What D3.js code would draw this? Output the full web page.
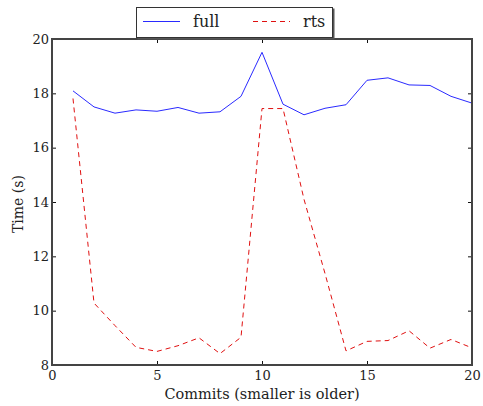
<!DOCTYPE html>
<html>
<head>
<meta charset="utf-8">
<script src="https://cdn.jsdelivr.net/npm/d3@7"></script>
<style>
  body { margin: 0; background: #fff; }
  text { font-family: "DejaVu Serif", serif; fill: #222; }
</style>
</head>
<body>
<div id="chart"></div>
<script>
// commits 1..20
const commits = [1,2,3,4,5,6,7,8,9,10,11,12,13,14,15,16,17,18,19,20];
const fullTimes = [18.09,17.50,17.27,17.39,17.34,17.48,17.27,17.32,17.89,19.51,17.60,17.21,17.45,17.58,18.48,18.57,18.31,18.29,17.89,17.64];
const rtsTimes  = [17.81,10.28,9.45,8.65,8.50,8.71,9.00,8.42,9.02,17.44,17.44,14.10,11.37,8.52,8.87,8.90,9.26,8.62,8.94,8.63];
const xTicks = [0,5,10,15,20];
const yTicks = [8,10,12,14,16,18,20];

const W = 483, H = 406;
const margin = { top: 39, right: 11, bottom: 41, left: 52 },
      width = W - margin.left - margin.right,
      height = H - margin.top - margin.bottom;

const svg = d3.select("#chart").append("svg")
  .attr("width", W).attr("height", H);

const g = svg.append("g")
  .attr("transform", `translate(${margin.left},${margin.top})`);

const x = d3.scaleLinear().domain([0, 20]).range([0, width]);
const y = d3.scaleLinear().domain([8, 20]).range([height, 0]);

// lines
const line = d3.line().x((d, i) => x(commits[i])).y(d => y(d));
g.append("path")
  .datum(fullTimes)
  .attr("fill", "none")
  .attr("stroke", "#2a2aff")
  .attr("stroke-width", 1)
  .attr("d", line);

g.append("path")
  .datum(rtsTimes)
  .attr("fill", "none")
  .attr("stroke", "#e01010")
  .attr("stroke-width", 1)
  .attr("stroke-dasharray", "5,4")
  .attr("d", line);

// ticks inside on all four sides
const tickLen = 4;
const axisColor = "#444";
const axB = d3.axisBottom(x).tickValues(xTicks).tickSizeInner(-tickLen).tickSizeOuter(0).tickPadding(6);
const axT = d3.axisTop(x).tickValues(xTicks).tickSizeInner(-tickLen).tickSizeOuter(0).tickFormat("");
const axL = d3.axisLeft(y).tickValues(yTicks).tickSizeInner(-tickLen).tickSizeOuter(0).tickPadding(3);
const axR = d3.axisRight(y).tickValues(yTicks).tickSizeInner(-tickLen).tickSizeOuter(0).tickFormat("");

[[axB, `translate(0,${height})`], [axT, "translate(0,0)"], [axL, "translate(0,0)"], [axR, `translate(${width},0)`]]
  .forEach(([ax, tr]) => {
    const a = g.append("g").attr("transform", tr).call(ax);
    a.select(".domain").remove();
    a.selectAll("line").attr("stroke", "#111");
    a.selectAll("text").style("font-size", "13px").style("font-family", "DejaVu Serif, serif").attr("fill", "#222");
  });

// frame
g.append("rect")
  .attr("x", 0).attr("y", 0)
  .attr("width", width).attr("height", height)
  .attr("fill", "none")
  .attr("stroke", axisColor)
  .attr("stroke-width", 2);

// axis labels
svg.append("text")
  .attr("x", margin.left + width / 2)
  .attr("y", H - 7)
  .attr("text-anchor", "middle")
  .style("font-size", "14.5px")
  .text("Commits (smaller is older)");

svg.append("text")
  .attr("transform", `translate(23,${margin.top + height / 2 + 2}) rotate(-90)`)
  .attr("text-anchor", "middle")
  .style("font-size", "14px")
  .text("Time (s)");

// legend
const legend = svg.append("g").attr("transform", "translate(136,7)");
legend.append("rect")
  .attr("x", 1.5).attr("y", 1.5).attr("width", 197).attr("height", 31)
  .attr("fill", "#555");
legend.append("rect")
  .attr("x", 0.5).attr("y", 0.5).attr("width", 196).attr("height", 30)
  .attr("fill", "#fff").attr("stroke", "#333").attr("stroke-width", 1);

const legendItems = [
  { name: "full", color: "#2a2aff", dash: null, x0: 7 },
  { name: "rts", color: "#e01010", dash: "5,4", x0: 117 }
];
legendItems.forEach(d => {
  legend.append("line")
    .attr("x1", d.x0).attr("x2", d.x0 + 37)
    .attr("y1", 14.5).attr("y2", 14.5)
    .attr("stroke", d.color)
    .attr("stroke-dasharray", d.dash);
  legend.append("text")
    .attr("x", d.x0 + 50).attr("y", 20)
    .style("font-size", "16px")
    .text(d.name);
});
</script>
</body>
</html>
